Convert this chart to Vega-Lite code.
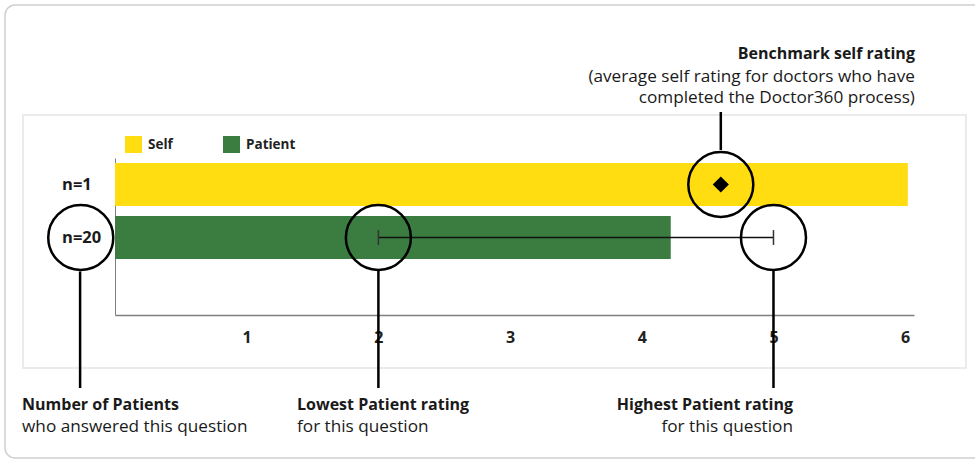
{
  "$schema": "https://vega.github.io/schema/vega-lite/v6.json",
  "autosize": {"type": "none"},
  "padding": {"left": 115, "top": 158, "right": 61, "bottom": 148},
  "width": 799,
  "height": 157,
  "background": "white",
  "config": {
    "view": {"stroke": null},
    "font": "Open Sans",
    "text": {"font": "Open Sans", "color": "#1a1a1a"},
    "scale": {"continuousPadding": 0}
  },
  "layer": [
    {
      "data": {"values": [
        {"series": "Self", "row": 0.5, "value": 6.02},
        {"series": "Patient", "row": 1.5, "value": 4.22}
      ]},
      "mark": {"type": "bar", "orient": "horizontal", "height": 43, "clip": false},
      "encoding": {
        "x": {"field": "value", "type": "quantitative", "title": null,
              "scale": {"domain": [0, 6.067], "nice": false, "zero": false, "padding": 0},
              "axis": {"values": [1, 2, 3, 4, 5, 6], "format": "d", "ticks": false, "grid": false, "domainColor": "#808080", "domainWidth": 1.5,
                       "labelFont": "Open Sans", "labelFontSize": 16, "labelFontWeight": "bold", "labelColor": "#222222", "labelPadding": 14, "labelFlush": false}},
        "y": {"field": "row", "type": "quantitative", "title": null,
              "scale": {"domain": [0, 2.962], "nice": false, "zero": false, "reverse": true, "padding": 0},
              "axis": {"labels": false, "ticks": false, "grid": false, "domainColor": "#808080", "domainWidth": 1}},
        "color": {"field": "series", "type": "nominal", "title": null,
                  "scale": {"domain": ["Self", "Patient"], "range": ["#FFDD10", "#3B7D40"]},
                  "legend": {"orient": "none", "legendX": 10, "legendY": -22, "direction": "horizontal", "symbolType": "square", "symbolSize": 289, "symbolStrokeWidth": 0, "symbolOpacity": 1,
                             "labelFont": "Open Sans", "labelFontSize": 13.5, "labelFontWeight": "bold", "labelColor": "#222222", "labelOffset": 6, "columnPadding": 50, "padding": 0}}
      }
    },
    {
      "data": {"values": [
        {"name": "outer", "x0": -0.835, "x1": 6.644, "y0": -2.887, "y1": 5.66}
      ]},
      "mark": {"type": "rect", "clip": false, "fill": null, "stroke": "#cfcfcf", "strokeWidth": 1.5, "cornerRadius": 10},
      "encoding": {
        "x": {"field": "x0", "type": "quantitative", "title": null},
        "x2": {"field": "x1"},
        "y": {"field": "y0", "type": "quantitative", "title": null},
        "y2": {"field": "y1"}
      }
    },
    {
      "data": {"values": [
        {"name": "inner", "x0": -0.6986, "x1": 6.462, "y0": -0.811, "y1": 3.962}
      ]},
      "mark": {"type": "rect", "clip": false, "fill": null, "stroke": "#ebebeb", "strokeWidth": 2},
      "encoding": {
        "x": {"field": "x0", "type": "quantitative", "title": null},
        "x2": {"field": "x1"},
        "y": {"field": "y0", "type": "quantitative", "title": null},
        "y2": {"field": "y1"}
      }
    },
    {
      "data": {"values": [{"low": 2, "high": 5, "row": 1.5}]},
      "mark": {"type": "rule", "clip": false, "color": "#111111", "strokeWidth": 1.5},
      "encoding": {
        "x": {"field": "low", "type": "quantitative", "title": null},
        "x2": {"field": "high"},
        "y": {"field": "row", "type": "quantitative", "title": null}
      }
    },
    {
      "data": {"values": [{"v": 2, "y0": 1.36, "y1": 1.64}, {"v": 5, "y0": 1.36, "y1": 1.64}]},
      "mark": {"type": "rule", "clip": false, "color": "#333333", "strokeWidth": 1.5},
      "encoding": {
        "x": {"field": "v", "type": "quantitative", "title": null},
        "y": {"field": "y0", "type": "quantitative", "title": null},
        "y2": {"field": "y1"}
      }
    },
    {
      "data": {"values": [{"benchmark": 4.6, "row": 0.5}]},
      "mark": {"type": "point", "shape": "diamond", "filled": true, "color": "#000000", "size": 260, "opacity": 1, "clip": false},
      "encoding": {
        "x": {"field": "benchmark", "type": "quantitative", "title": null},
        "y": {"field": "row", "type": "quantitative", "title": null}
      }
    },
    {
      "data": {"values": [
        {"what": "benchmark", "cx": 4.6, "cy": 0.5},
        {"what": "lowest", "cx": 2, "cy": 1.5},
        {"what": "highest", "cx": 5, "cy": 1.5},
        {"what": "count", "cx": -0.26, "cy": 1.5}
      ]},
      "mark": {"type": "point", "shape": "circle", "filled": false, "stroke": "#000000", "strokeWidth": 2.5, "size": 4225, "opacity": 1, "clip": false},
      "encoding": {
        "x": {"field": "cx", "type": "quantitative", "title": null},
        "y": {"field": "cy", "type": "quantitative", "title": null}
      }
    },
    {
      "data": {"values": [
        {"what": "benchmark", "lx": 4.6, "y0": -0.868, "y1": -0.151},
        {"what": "count", "lx": -0.265, "y0": 2.14, "y1": 4.34},
        {"what": "lowest", "lx": 2, "y0": 2.13, "y1": 4.34},
        {"what": "highest", "lx": 5, "y0": 2.13, "y1": 4.34}
      ]},
      "mark": {"type": "rule", "clip": false, "color": "#000000", "strokeWidth": 2.5},
      "encoding": {
        "x": {"field": "lx", "type": "quantitative", "title": null},
        "y": {"field": "y0", "type": "quantitative", "title": null},
        "y2": {"field": "y1"}
      }
    },
    {
      "data": {"values": [
        {"label": "n=1", "tx": -0.402, "ty": 0.5},
        {"label": "n=20", "tx": -0.402, "ty": 1.5}
      ]},
      "mark": {"type": "text", "clip": false, "align": "left", "baseline": "middle", "fontSize": 16.5, "fontWeight": "bold", "font": "Open Sans", "color": "#1a1a1a"},
      "encoding": {
        "x": {"field": "tx", "type": "quantitative", "title": null},
        "y": {"field": "ty", "type": "quantitative", "title": null},
        "text": {"field": "label"}
      }
    },
    {
      "data": {"values": [
        {"label": "Number of Patients", "tx": -0.706, "ty": 4.66},
        {"label": "Lowest Patient rating", "tx": 1.382, "ty": 4.66}
      ]},
      "mark": {"type": "text", "clip": false, "align": "left", "baseline": "middle", "fontSize": 16, "fontWeight": "bold", "font": "Open Sans", "color": "#1a1a1a"},
      "encoding": {
        "x": {"field": "tx", "type": "quantitative", "title": null},
        "y": {"field": "ty", "type": "quantitative", "title": null},
        "text": {"field": "label"}
      }
    },
    {
      "data": {"values": [
        {"label": "who answered this question", "tx": -0.706, "ty": 5.075},
        {"label": "for this question", "tx": 1.382, "ty": 5.075}
      ]},
      "mark": {"type": "text", "clip": false, "align": "left", "baseline": "middle", "fontSize": 17.2, "font": "Open Sans", "color": "#1a1a1a"},
      "encoding": {
        "x": {"field": "tx", "type": "quantitative", "title": null},
        "y": {"field": "ty", "type": "quantitative", "title": null},
        "text": {"field": "label"}
      }
    },
    {
      "data": {"values": [
        {"label": "Highest Patient rating", "tx": 5.148, "ty": 4.66},
        {"label": "Benchmark self rating", "tx": 6.074, "ty": -1.962}
      ]},
      "mark": {"type": "text", "clip": false, "align": "right", "baseline": "middle", "fontSize": 16, "fontWeight": "bold", "font": "Open Sans", "color": "#1a1a1a"},
      "encoding": {
        "x": {"field": "tx", "type": "quantitative", "title": null},
        "y": {"field": "ty", "type": "quantitative", "title": null},
        "text": {"field": "label"}
      }
    },
    {
      "data": {"values": [
        {"label": "for this question", "tx": 5.148, "ty": 5.075},
        {"label": "(average self rating for doctors who have", "tx": 6.074, "ty": -1.528},
        {"label": "completed the Doctor360 process)", "tx": 6.074, "ty": -1.132}
      ]},
      "mark": {"type": "text", "clip": false, "align": "right", "baseline": "middle", "fontSize": 17.2, "font": "Open Sans", "color": "#1a1a1a"},
      "encoding": {
        "x": {"field": "tx", "type": "quantitative", "title": null},
        "y": {"field": "ty", "type": "quantitative", "title": null},
        "text": {"field": "label"}
      }
    }
  ]
}
